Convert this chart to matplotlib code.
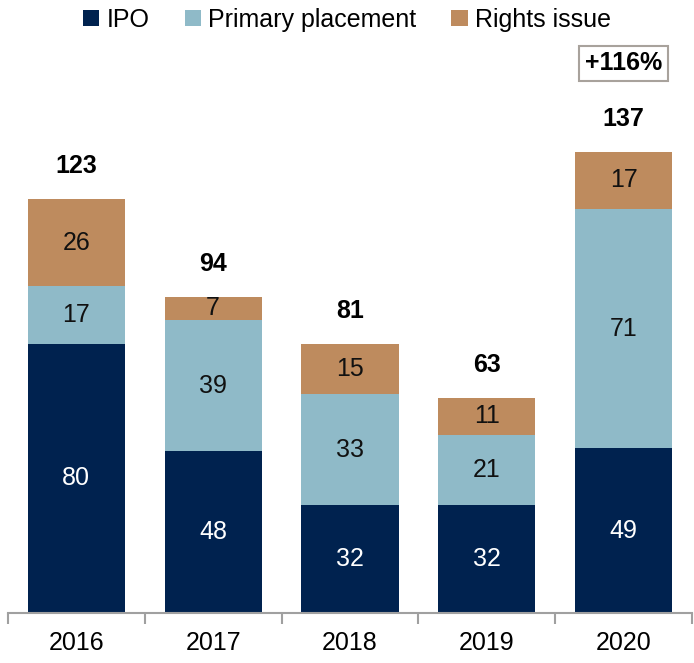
import matplotlib
matplotlib.use("Agg")
import matplotlib.pyplot as plt
import numpy as np

plt.rcParams["font.family"] = ["Liberation Sans", "DejaVu Sans"]

years = ["2016", "2017", "2018", "2019", "2020"]
ipo = [80, 48, 32, 32, 49]
primary = [17, 39, 33, 21, 71]
rights = [26, 7, 15, 11, 17]
totals = [123, 94, 81, 63, 137]
growth_label = "+116%"

c_ipo = "#00224F"
c_pri = "#8FBAC8"
c_rig = "#BE8B5E"

fig = plt.figure(figsize=(6.94, 6.63), dpi=100)
ax = fig.add_axes([0.0115, 0.0754, 0.9855, 0.789])

x = np.arange(len(years))
w = 0.71
ipo_a = np.array(ipo)
pri_a = np.array(primary)
rig_a = np.array(rights)

b1 = ax.bar(x, ipo_a, w, color=c_ipo, label="IPO")
b2 = ax.bar(x, pri_a, w, bottom=ipo_a, color=c_pri, label="Primary placement")
b3 = ax.bar(x, rig_a, w, bottom=ipo_a + pri_a, color=c_rig, label="Rights issue")

fs = 18
for i in range(len(years)):
    ax.text(x[i], ipo_a[i] / 2, str(ipo[i]), ha="center", va="center",
            color="white", fontsize=fs)
    ax.text(x[i], ipo_a[i] + pri_a[i] / 2, str(primary[i]), ha="center",
            va="center", color="#111111", fontsize=fs)
    ax.text(x[i], ipo_a[i] + pri_a[i] + rig_a[i] / 2, str(rights[i]),
            ha="center", va="center", color="#111111", fontsize=fs)
    top = ipo_a[i] + pri_a[i] + rig_a[i]
    ax.text(x[i], top + 9.8, str(totals[i]), ha="center", va="center",
            fontsize=fs, fontweight="bold")

ax.text(x[-1], 163.3, growth_label, ha="center", va="center", fontsize=fs,
        fontweight="bold",
        bbox=dict(boxstyle="square,pad=0.22", fc="white", ec="#A8A29C", lw=1.5))

ax.set_xlim(-0.5, 4.5)
ax.set_ylim(0, 155.4)
ax.set_yticks([])
for s in ["top", "right", "left"]:
    ax.spines[s].set_visible(False)
ax.spines["bottom"].set_color("#A0A0A0")
ax.spines["bottom"].set_linewidth(1.5)

ax.set_xticks(x)
ax.set_xticklabels(years, fontsize=fs)
ax.tick_params(axis="x", which="major", length=0, pad=13)
ax.set_xticks(np.arange(-0.5, 5, 1), minor=True)
ax.tick_params(axis="x", which="minor", length=8, width=1.5, color="#A0A0A0",
               direction="out")

fig.legend(handles=[b1, b2, b3], loc="center", bbox_to_anchor=(0.5, 0.97),
           ncol=3, frameon=False, fontsize=fs, handlelength=0.65,
           handleheight=0.65, handletextpad=0.3, columnspacing=1.4)

fig.savefig("out.png", dpi=100)
